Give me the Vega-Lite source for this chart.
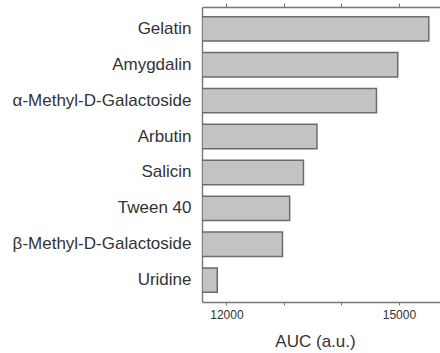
{
  "$schema": "https://vega.github.io/schema/vega-lite/v6.json",
  "width": 238,
  "height": 295,
  "autosize": {"type": "none"},
  "padding": {"left": 202, "top": 7, "right": 0, "bottom": 51},
  "background": "white",
  "data": {
    "values": [
      {"substrate": "Gelatin", "auc": 15520},
      {"substrate": "Amygdalin", "auc": 14980},
      {"substrate": "α-Methyl-D-Galactoside", "auc": 14610},
      {"substrate": "Arbutin", "auc": 13575},
      {"substrate": "Salicin", "auc": 13340},
      {"substrate": "Tween 40", "auc": 13100},
      {"substrate": "β-Methyl-D-Galactoside", "auc": 12975},
      {"substrate": "Uridine", "auc": 11840}
    ]
  },
  "encoding": {
    "y": {
      "field": "substrate",
      "type": "nominal",
      "sort": null,
      "scale": {"paddingInner": 0.32, "paddingOuter": 0.27},
      "axis": {
        "title": null,
        "ticks": false,
        "domain": true,
        "domainColor": "#777777",
        "domainWidth": 1.4,
        "labelFont": "Liberation Sans",
        "labelFontSize": 17,
        "labelColor": "#333333",
        "labelPadding": 11,
        "labelLimit": 260
      }
    }
  },
  "layer": [
    {
      "mark": {"type": "bar", "fill": "#c3c3c3", "stroke": "#6c6c6c", "strokeWidth": 1.5, "clip": true},
      "encoding": {
        "x": {
          "field": "auc",
          "type": "quantitative",
          "scale": {"domain": [11575, 15715], "nice": false, "zero": false},
          "axis": {
            "orient": "bottom",
            "values": [12000, 13000, 14000, 15000],
            "format": "d",
            "labelExpr": "datum.value == 12000 || datum.value == 15000 ? datum.label : ''",
            "grid": false,
            "domainColor": "#777777",
            "domainWidth": 1.4,
            "tickColor": "#777777",
            "tickSize": 3,
            "tickWidth": 1,
            "labelFont": "Liberation Sans",
            "labelFontSize": 12,
            "labelColor": "#333333",
            "labelPadding": 4,
            "title": "AUC (a.u.)",
            "titleFont": "Liberation Sans",
            "titleFontSize": 17,
            "titleFontWeight": "normal",
            "titleColor": "#333333",
            "titlePadding": 13,
            "titleX": 113,
            "titleAnchor": "middle"
          }
        },
        "x2": {"datum": 11575}
      }
    },
    {
      "mark": {"type": "tick", "opacity": 0},
      "encoding": {
        "x": {
          "field": "auc",
          "type": "quantitative",
          "axis": {
            "orient": "top",
            "values": [12000, 13000, 14000, 15000],
            "labels": false,
            "title": null,
            "grid": false,
            "domainColor": "#777777",
            "domainWidth": 1.4,
            "tickColor": "#777777",
            "tickSize": 4,
            "tickWidth": 1
          }
        }
      }
    }
  ],
  "resolve": {"axis": {"x": "independent"}},
  "config": {"view": {"stroke": null}}
}
